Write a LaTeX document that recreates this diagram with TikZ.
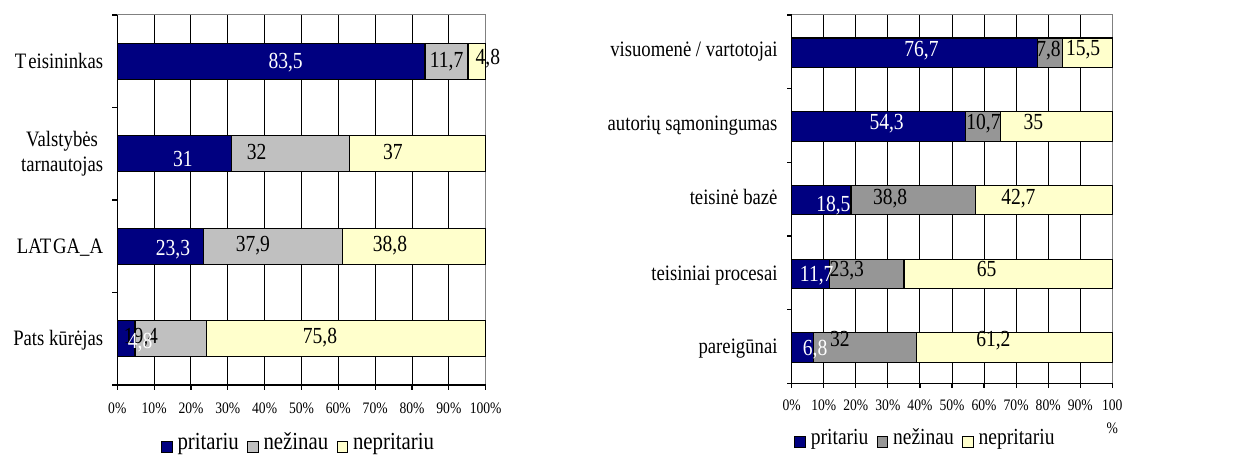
\documentclass[tikz,border=0pt]{standalone}
\usepackage{fontspec}
\setmainfont{Liberation Serif}[FakeStretch=0.85]
\usetikzlibrary{positioning}
\definecolor{navy}{RGB}{0,0,128}
\definecolor{silver}{RGB}{192,192,192}
\definecolor{midgray}{RGB}{150,150,150}
\definecolor{paleyellow}{RGB}{255,255,204}
\definecolor{framegray}{RGB}{128,128,128}
\tikzset{
  segment/.style = {draw=black, line width=1.2pt},
  gridline/.style = {black, line width=1pt},
  frameline/.style = {framegray, line width=1pt},
  axisline/.style = {black, line width=1.2pt},
  catlabel/.style = {anchor=base east, xshift=-14pt, align=center, inner sep=0pt, font=\fontsize{22}{25}\selectfont},
  vallabel/.style = {anchor=base, inner sep=0pt, font=\fontsize{23}{23}\selectfont},
  ticklabel/.style = {anchor=base, inner sep=0pt, font=\fontsize{16}{16}\selectfont},
  legbox/.style = {draw=black, line width=0.8pt, minimum size=10.5pt, inner sep=0pt},
  legtext/.style = {inner sep=0pt, text height=0.75em, text depth=0.25em, font=\fontsize{#1}{#1}\selectfont},
  legtext/.default = 23,
}

\begin{document}
\begin{tikzpicture}[x=1pt,y=-1pt]
  \useasboundingbox (0,0) rectangle (1245,457);

  % left chart: who should act
  \begin{scope}[xshift=117.3pt, x=3.684pt]
    \foreach \p in {10,20,...,90}
      \draw[gridline] (\p,15) -- (\p,385);
    \draw[frameline] (0,15) -- (100,15) -- (100,385);
    \foreach \yc/\a/\b in {61.25/83.5/11.7, 153.75/31/32, 246.25/23.3/37.9, 338.75/4.8/19.4} {
      \draw[segment, fill=navy] (0,\yc-18) rectangle (\a,\yc+18);
      \draw[segment, fill=silver] (\a,\yc-18) rectangle (\a+\b,\yc+18);
      \draw[segment, fill=paleyellow] (\a+\b,\yc-18) rectangle (100,\yc+18);
    }
    \draw[axisline] (0,15) -- (0,385) -- (100,385);
    \foreach \y in {15,107.5,200,292.5,385}
      \draw[axisline] (0,\y) -- ++(-5pt,0);
    \foreach \p in {0,10,...,100} {
      \draw[axisline] (\p,385) -- ++(0,5);
      \node[ticklabel] (ltick\p) at (\p,413.3) {\p\%};
    }
    % values
    \foreach \px/\py/\txt [count=\n] in {89.4/68/{11,7}, 100.6/65/{4,8}, 37.8/159.3/{32}, 74.8/159.3/{37},
        36.8/251.7/{37,9}, 74/251.7/{38,8}, 6.4/343.3/{19,4}, 55/343.3/{75,8}}
      \node[vallabel] (lval\n) at (\px,\py) {\txt};
    \foreach \px/\py/\txt [count=\n] in {45.7/68.3/{83,5}, 17.8/166.7/{31}, 15.1/255/{23,3}, 6.2/348.3/{4,8}}
      \node[vallabel, white] (lpri\n) at (\px,\py) {\txt};
    % categories
    \node[catlabel] (teis) at (0,68.3) {T\kern2pt eisininkas};
    \node[catlabel, anchor=east] (vals) at (0,153.75) {Valstybės\\tarnautojas};
    \node[catlabel] (latga) at (0,254) {LAT\kern2pt GA\_A};
    \node[catlabel] (pats) at (0,345) {Pats kūrėjas};
  \end{scope}

  % left legend
  \node[legbox, fill=navy] (lkey1) at (166.7,446.7) {};
  \node[legtext=24.5, right=5pt of lkey1] (lleg1) {pritariu};
  \node[legbox, fill=silver, right=8pt of lleg1] (lkey2) {};
  \node[legtext=24.5, right=5pt of lkey2] (lleg2) {nežinau};
  \node[legbox, fill=paleyellow, right=8pt of lleg2] (lkey3) {};
  \node[legtext=24.5, right=5pt of lkey3] (lleg3) {nepritariu};

  % right chart: what is the cause
  \begin{scope}[xshift=791.7pt, x=3.206pt]
    \foreach \p in {10,20,...,90}
      \draw[gridline] (\p,15) -- (\p,383.3);
    \draw[frameline] (0,15) -- (100,15) -- (100,383.3);
    \foreach \yc/\a/\b in {52.8/76.7/7.8, 126.5/54.3/10.7, 200.2/18.5/38.8, 273.8/11.7/23.3, 347.5/6.8/32} {
      \draw[segment, fill=navy] (0,\yc-14.7) rectangle (\a,\yc+14.7);
      \draw[segment, fill=midgray] (\a,\yc-14.7) rectangle (\a+\b,\yc+14.7);
      \draw[segment, fill=paleyellow] (\a+\b,\yc-14.7) rectangle (100,\yc+14.7);
    }
    \draw[axisline] (0,15) -- (0,383.3) -- (100,383.3);
    \foreach \y in {15,88.66,162.3,236,309.6,383.3}
      \draw[axisline] (0,\y) -- ++(-5pt,0);
    \foreach \p in {0,10,...,100}
      \draw[axisline] (\p,383.3) -- ++(0,5);
    \foreach \p in {0,10,...,90}
      \node[ticklabel] (rtick\p) at (\p,410) {\p\%};
    \node[ticklabel] (rtick100) at (100,410) {100};
    \node[ticklabel] (rtickpct) at (100,433) {\%};
    % values
    \foreach \px/\py/\txt [count=\n] in {80.1/56.7/{7,8}, 90.9/56/{15,5}, 59.8/130/{10,7}, 75.4/130/{35},
        30.7/205/{38,8}, 70.7/205/{42,7}, 17.2/276.7/{23,3}, 60.8/276.7/{65}, 15/346.7/{32}, 62.9/346.7/{61,2}}
      \node[vallabel] (rval\n) at (\px,\py) {\txt};
    \foreach \px/\py/\txt [count=\n] in {40.5/56.7/{76,7}, 29.6/130/{54,3}, 13/211.7/{18,5}, 7.8/281.7/{11,7}, 7.3/355/{6,8}}
      \node[vallabel, white] (rpri\n) at (\px,\py) {\txt};
    % categories
    \node[catlabel] (visu) at (0,56.7) {visuomenė / vartotojai};
    \node[catlabel] (auto) at (0,131) {autorių sąmoningumas};
    \node[catlabel] (baze) at (0,205) {teisinė bazė};
    \node[catlabel] (proc) at (0,280) {teisiniai procesai};
    \node[catlabel] (pare) at (0,353.3) {pareigūnai};
  \end{scope}

  % right legend
  \node[legbox, fill=navy] (rkey1) at (800,442) {};
  \node[legtext, right=5pt of rkey1] (rleg1) {pritariu};
  \node[legbox, fill=midgray, right=8pt of rleg1] (rkey2) {};
  \node[legtext, right=5pt of rkey2] (rleg2) {nežinau};
  \node[legbox, fill=paleyellow, right=8pt of rleg2] (rkey3) {};
  \node[legtext, right=5pt of rkey3] (rleg3) {nepritariu};
\end{tikzpicture}
\end{document}
